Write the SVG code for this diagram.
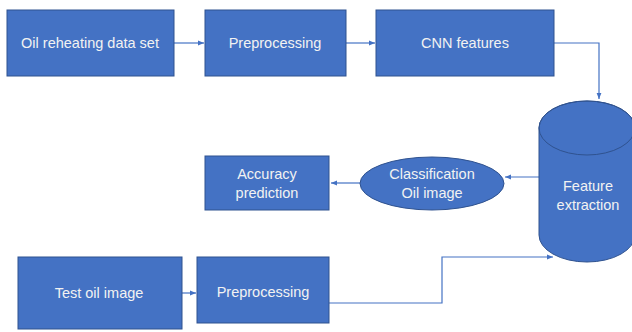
<svg xmlns="http://www.w3.org/2000/svg" width="632" height="332" viewBox="0 0 632 332">
  <defs>
    <marker id="arr" viewBox="0 0 10 10" refX="10" refY="5" markerWidth="6" markerHeight="6" orient="auto" markerUnits="userSpaceOnUse">
      <path d="M0,1 L10,5 L0,9 Z" fill="#4472C4"/>
    </marker>
    <style>
      .box { fill: #4472C4; stroke: #2F528F; stroke-width: 1; }
      .lbl { font-family: "Liberation Sans", Arial, sans-serif; font-size: 14.5px; fill: #F2F2F2; text-anchor: middle; }
      .con { fill: none; stroke: #4472C4; stroke-width: 1.2; marker-end: url(#arr); }
    </style>
  </defs>
  <rect width="632" height="332" fill="#ffffff"/>

  <g id="connectors">
    <path class="con" d="M174,43 L204,43"/>
    <path class="con" d="M346,43 L375,43"/>
    <path class="con" d="M554,43 L599,43 L599,99"/>
    <path class="con" d="M539,177 L505,177"/>
    <path class="con" d="M360,183 L331,183"/>
    <path class="con" d="M182,293 L196,293"/>
    <path class="con" d="M329,303 L442,303 L442,257 L553,257"/>
  </g>

  <g id="oil-reheating">
    <rect class="box" x="7" y="10" width="167" height="66"/>
    <text class="lbl" x="90" y="48">Oil reheating data set</text>
  </g>
  <g id="preprocessing-1">
    <rect class="box" x="205" y="10" width="141" height="66"/>
    <text class="lbl" x="275" y="48">Preprocessing</text>
  </g>
  <g id="cnn-features">
    <rect class="box" x="376" y="10" width="178" height="66"/>
    <text class="lbl" x="465" y="48">CNN features</text>
  </g>
  <g id="feature-extraction">
    <path class="box" d="M539,128 L539,235 A48,27 0 0 0 635,235 L635,128 A48,27 0 0 0 539,128 Z"/>
    <ellipse cx="587" cy="128" rx="48" ry="27" fill="none" stroke="#2F528F" stroke-width="1"/>
    <text class="lbl" x="588" y="191">Feature</text>
    <text class="lbl" x="588" y="210">extraction</text>
  </g>
  <g id="classification">
    <ellipse class="box" cx="432" cy="183.5" rx="72" ry="26.5"/>
    <text class="lbl" x="432" y="179">Classification</text>
    <text class="lbl" x="432" y="198">Oil image</text>
  </g>
  <g id="accuracy">
    <rect class="box" x="205" y="156" width="124" height="54"/>
    <text class="lbl" x="267" y="179">Accuracy</text>
    <text class="lbl" x="267" y="198">prediction</text>
  </g>
  <g id="test-oil-image">
    <rect class="box" x="18" y="257" width="164" height="72"/>
    <text class="lbl" x="99" y="298">Test oil image</text>
  </g>
  <g id="preprocessing-2">
    <rect class="box" x="197" y="257" width="132" height="66"/>
    <text class="lbl" x="263" y="297">Preprocessing</text>
  </g>
</svg>
